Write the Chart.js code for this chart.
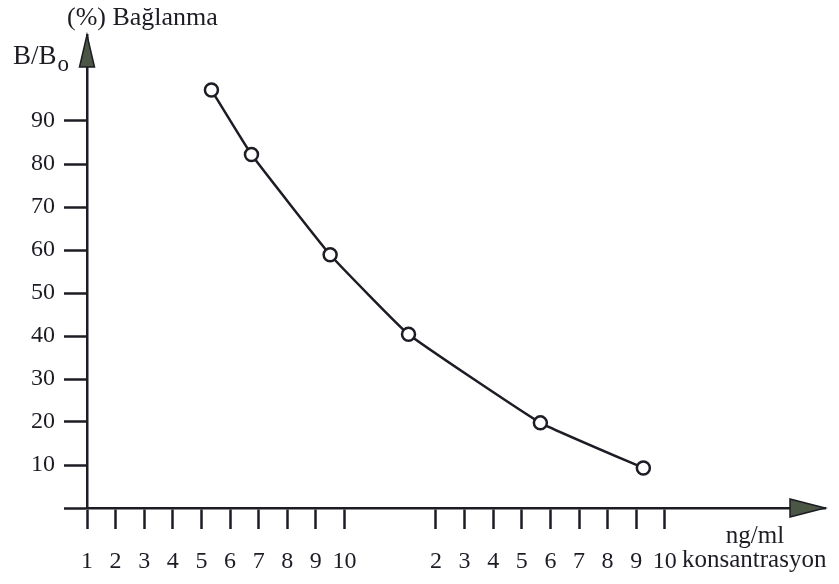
<!DOCTYPE html>
<html>
<head>
<meta charset="utf-8">
<script src="https://cdn.jsdelivr.net/npm/chart.js@4"></script>
<style>
  body { margin: 0; background: #fff; }
</style>
</head>
<body>
<canvas id="bindingChart" width="839" height="584"></canvas>
<script>
// concentration (ng/ml) and binding (%)
const concentration = [5.35, 6.75, 9.5, 17, 56.5, 92.5];
const binding = [97.2, 82.2, 58.9, 40.4, 19.8, 9.3];

const xTickValues = [1, 2, 3, 4, 5, 6, 7, 8, 9, 10, 20, 30, 40, 50, 60, 70, 80, 90, 100];
const xTickLabels = ["1", "2", "3", "4", "5", "6", "7", "8", "9", "10", "2", "3", "4", "5", "6", "7", "8", "9", "10"];
const yTickValues = [0, 10, 20, 30, 40, 50, 60, 70, 80, 90];

const INK = "#1c1c24";
const FONT = "'Liberation Serif', 'DejaVu Serif', serif";
const DECADE_GAP = 3.2;

// schematic axis: 1..10 evenly spaced, then 20..100 evenly spaced after a gap
function axisPos(v) {
    if (v <= 10) return v;
    if (v < 20) return 10 + (v - 10) / 10 * DECADE_GAP;
    return 10 + DECADE_GAP + (v - 20) / 10;
}

const points = concentration.map(function (c, i) {
    return { x: axisPos(c), y: binding[i] };
});

const axisDecor = {
    id: "axisDecor",
    afterDraw: function (chart) {
        const ctx = chart.ctx;
        const area = chart.chartArea;
        const x0 = area.left, y0 = area.bottom;

        ctx.save();
        ctx.fillStyle = "#4b5645";
        ctx.strokeStyle = INK;
        ctx.lineWidth = 1.5;

        // y arrow
        ctx.beginPath();
        ctx.moveTo(x0, area.top);
        ctx.lineTo(x0 - 7.5, area.top + 32);
        ctx.lineTo(x0 + 7.5, area.top + 32);
        ctx.closePath();
        ctx.fill();
        ctx.stroke();

        // x arrow
        ctx.beginPath();
        ctx.moveTo(area.right, y0);
        ctx.lineTo(area.right - 35, y0 - 9);
        ctx.lineTo(area.right - 35, y0 + 9);
        ctx.closePath();
        ctx.fill();
        ctx.stroke();

        ctx.fillStyle = INK;
        ctx.textBaseline = "alphabetic";
        ctx.textAlign = "left";
        ctx.font = "26px " + FONT;
        ctx.fillText("(%) Bağlanma", 67, 25);
        ctx.font = "27px " + FONT;
        ctx.fillText("B/B", 13, 64);
        const bw = ctx.measureText("B/B").width;
        ctx.font = "23px " + FONT;
        ctx.fillText("o", 13 + bw + 1, 71);

        ctx.font = "25px " + FONT;
        ctx.textAlign = "center";
        ctx.fillText("ng/ml", 755, 543);
        ctx.textAlign = "left";
        ctx.fillText("konsantrasyon", 682, 567);
        ctx.restore();
    }
};

new Chart(document.getElementById("bindingChart"), {
    type: "line",
    data: {
        datasets: [{
            data: points,
            borderColor: INK,
            borderWidth: 2.5,
            tension: 0.1,
            pointRadius: 6.5,
            pointHoverRadius: 6.5,
            pointBorderWidth: 2.5,
            pointBorderColor: INK,
            pointBackgroundColor: "#fff"
        }]
    },
    options: {
        responsive: false,
        animation: false,
        events: [],
        layout: {
            padding: { top: 35, right: 14, left: 0, bottom: 0 }
        },
        plugins: {
            legend: { display: false },
            tooltip: { enabled: false }
        },
        scales: {
            x: {
                type: "linear",
                min: 1,
                max: 26.8,
                afterBuildTicks: function (scale) {
                    scale.ticks = xTickValues.map(function (v) {
                        return { value: axisPos(v) };
                    });
                },
                afterFit: function (scale) {
                    scale.height = 76;
                },
                ticks: {
                    autoSkip: false,
                    maxRotation: 0,
                    padding: 18,
                    color: INK,
                    font: { family: FONT, size: 24 },
                    callback: function (value, index) {
                        return xTickLabels[index];
                    }
                },
                grid: {
                    drawOnChartArea: false,
                    tickLength: 21,
                    tickWidth: 2.5,
                    tickColor: INK
                },
                border: { color: INK, width: 2.5 }
            },
            y: {
                min: 0,
                max: 110,
                afterBuildTicks: function (scale) {
                    scale.ticks = yTickValues.map(function (v) {
                        return { value: v };
                    });
                },
                afterFit: function (scale) {
                    scale.width = 87;
                },
                ticks: {
                    padding: 9,
                    color: INK,
                    font: { family: FONT, size: 24 },
                    callback: function (value) {
                        return value === 0 ? "" : value;
                    }
                },
                grid: {
                    drawOnChartArea: false,
                    tickLength: 23,
                    tickWidth: 2.5,
                    tickColor: INK
                },
                border: { color: INK, width: 2.5 }
            }
        }
    },
    plugins: [axisDecor]
});
</script>
</body>
</html>
